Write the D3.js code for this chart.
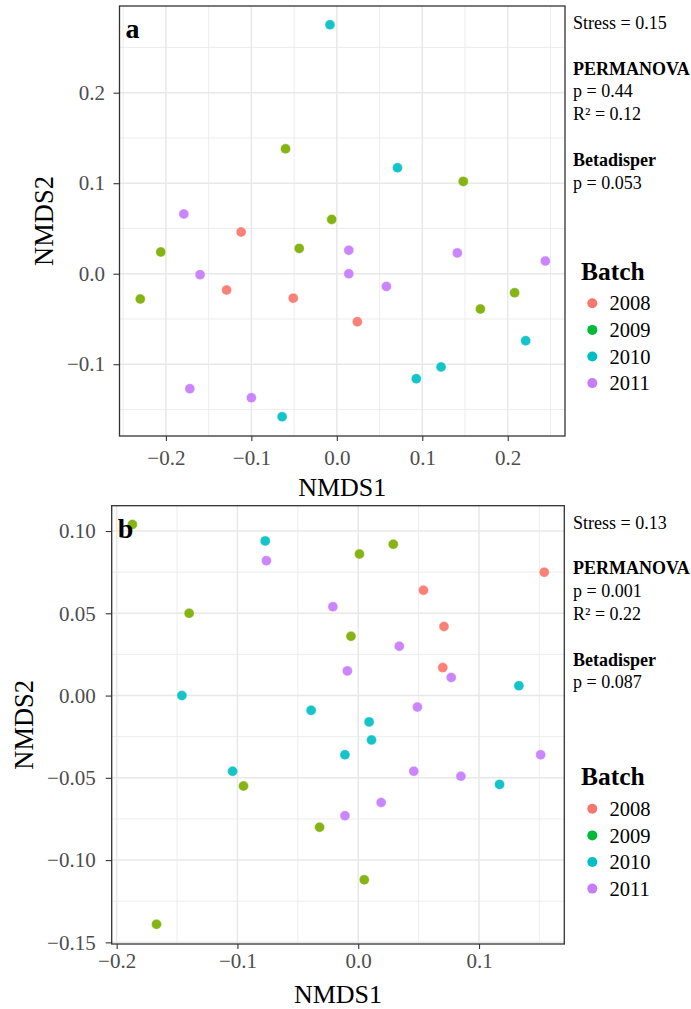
<!DOCTYPE html>
<html>
<head>
<meta charset="utf-8">
<script src="https://cdn.jsdelivr.net/npm/d3@7"></script>
<style>
  body { margin: 0; background: #fff; }
  svg { display: block; font-family: "Liberation Serif", "Times New Roman", serif; }
</style>
</head>
<body>
<div id="chart"></div>
<script>
// batches and colours (ggplot default hue)
var batches = ["2008", "2009", "2010", "2011"];
var pointColors = ["#F8766D", "#7CAE00", "#00BFC4", "#C77CFF"];
var keyColors = ["#F8766D", "#00BA38", "#00BFC4", "#C77CFF"];

// panel a
var aX = [-0.008, -0.060, 0.071, 0.148, -0.179, -0.112, -0.006, -0.206, -0.044, 0.014,
          -0.160, 0.014, 0.141, 0.244, 0.058, -0.230, -0.129, -0.051, 0.024, 0.208,
          0.168, 0.221, 0.122, 0.093, -0.172, -0.100, -0.064];
var aY = [0.275, 0.138, 0.117, 0.102, 0.066, 0.046, 0.060, 0.024, 0.028, 0.026,
          -0.001, 0.000, 0.023, 0.014, -0.014, -0.028, -0.018, -0.027, -0.053, -0.021,
          -0.039, -0.074, -0.103, -0.116, -0.127, -0.137, -0.158];
var aBatch = ["2010", "2009", "2010", "2009", "2011", "2008", "2009", "2009", "2009", "2011",
              "2011", "2011", "2011", "2011", "2011", "2009", "2008", "2008", "2008", "2009",
              "2009", "2010", "2010", "2010", "2011", "2011", "2010"];
var aXTicks = [-0.2, -0.1, 0, 0.1, 0.2];
var aYTicks = [-0.1, 0, 0.1, 0.2];
var aXMinor = [-0.25, -0.15, -0.05, 0.05, 0.15, 0.25];
var aYMinor = [-0.15, -0.05, 0.05, 0.15, 0.25];
var aStats = ["Stress = 0.15", "", "PERMANOVA", "p = 0.44", "R\u00B2 = 0.12", "", "Betadisper", "p = 0.053"];

// panel b
var bX = [-0.187, -0.077, -0.076, -0.140, -0.146, -0.021, -0.006, -0.009, -0.039, 0.001,
          0.029, 0.054, 0.154, 0.071, 0.034, 0.070, 0.077, 0.133, 0.049, 0.009,
          0.011, -0.011, 0.151, 0.046, 0.085, 0.117, 0.019, -0.011, -0.032, 0.005,
          -0.104, -0.095, -0.167];
var bY = [0.104, 0.094, 0.082, 0.050, 0.000, 0.054, 0.036, 0.015, -0.009, 0.086,
          0.092, 0.064, 0.075, 0.042, 0.030, 0.017, 0.011, 0.006, -0.007, -0.016,
          -0.027, -0.036, -0.036, -0.046, -0.049, -0.054, -0.065, -0.073, -0.080, -0.112,
          -0.046, -0.055, -0.139];
var bBatch = ["2009", "2010", "2011", "2009", "2010", "2011", "2009", "2011", "2010", "2009",
              "2009", "2008", "2008", "2008", "2011", "2008", "2011", "2010", "2011", "2010",
              "2010", "2010", "2011", "2011", "2011", "2010", "2011", "2011", "2009", "2009",
              "2010", "2009", "2009"];
var bXTicks = [-0.2, -0.1, 0, 0.1];
var bYTicks = [-0.15, -0.1, -0.05, 0, 0.05, 0.1];
var bXMinor = [-0.15, -0.05, 0.05, 0.15];
var bYMinor = [-0.125, -0.075, -0.025, 0.025, 0.075];
var bStats = ["Stress = 0.13", "", "PERMANOVA", "p = 0.001", "R\u00B2 = 0.22", "", "Betadisper", "p = 0.087"];

var W = 691, H = 1009;
var serif = "'Liberation Serif', 'Times New Roman', serif";
var svg = d3.select("#chart").append("svg")
    .attr("width", W).attr("height", H);

var color = d3.scaleOrdinal().domain(batches).range(pointColors);

function drawPanel(p) {
  var x = d3.scaleLinear().domain(p.xDomain).range([p.left, p.right]);
  var y = d3.scaleLinear().domain(p.yDomain).range([p.bottom, p.top]);
  var g = svg.append("g");

  // grid
  g.selectAll(".xminor").data(p.xMinor.filter(function(v) { return x(v) > p.left && x(v) < p.right; }))
    .enter().append("line")
      .attr("x1", function(d) { return x(d); }).attr("x2", function(d) { return x(d); })
      .attr("y1", p.top).attr("y2", p.bottom)
      .attr("stroke", "#ebebeb").attr("stroke-width", 0.9);
  g.selectAll(".yminor").data(p.yMinor.filter(function(v) { return y(v) > p.top && y(v) < p.bottom; }))
    .enter().append("line")
      .attr("y1", function(d) { return y(d); }).attr("y2", function(d) { return y(d); })
      .attr("x1", p.left).attr("x2", p.right)
      .attr("stroke", "#ebebeb").attr("stroke-width", 0.9);
  g.selectAll(".xmajor").data(p.xTicks)
    .enter().append("line")
      .attr("x1", function(d) { return x(d); }).attr("x2", function(d) { return x(d); })
      .attr("y1", p.top).attr("y2", p.bottom)
      .attr("stroke", "#e8e8e8").attr("stroke-width", 1.5);
  g.selectAll(".ymajor").data(p.yTicks)
    .enter().append("line")
      .attr("y1", function(d) { return y(d); }).attr("y2", function(d) { return y(d); })
      .attr("x1", p.left).attr("x2", p.right)
      .attr("stroke", "#e8e8e8").attr("stroke-width", 1.5);

  // points
  g.selectAll("circle.pt").data(p.xs.map(function(v, i) { return {x: v, y: p.ys[i], b: p.bs[i]}; }))
    .enter().append("circle")
      .attr("class", "pt")
      .attr("cx", function(d) { return x(d.x); })
      .attr("cy", function(d) { return y(d.y); })
      .attr("r", 5)
      .attr("fill", function(d) { return color(d.b); })
      .attr("fill-opacity", 0.92)
      .attr("stroke", "#fff").attr("stroke-width", 0.6).attr("stroke-opacity", 0.6);

  // border
  g.append("rect")
    .attr("x", p.left).attr("y", p.top)
    .attr("width", p.right - p.left).attr("height", p.bottom - p.top)
    .attr("fill", "none").attr("stroke", "#333").attr("stroke-width", 1.3);

  // axes
  var xa = g.append("g").attr("transform", "translate(0," + p.bottom + ")")
    .call(d3.axisBottom(x).tickValues(p.xTicks).tickFormat(d3.format(".1f")).tickSize(5).tickPadding(p.xPad));
  var ya = g.append("g").attr("transform", "translate(" + p.left + ",0)")
    .call(d3.axisLeft(y).tickValues(p.yTicks).tickFormat(d3.format(p.yFmt)).tickSize(6).tickPadding(p.yPad));
  [xa, ya].forEach(function(a) {
    a.attr("font-family", serif).attr("font-size", 21);
    a.select(".domain").remove();
    a.selectAll(".tick line").attr("stroke", "#333").attr("stroke-width", 1.1);
    a.selectAll(".tick text").attr("fill", "#4d4d4d");
  });

  // axis titles
  g.append("text")
    .attr("x", (p.left + p.right) / 2).attr("y", p.xTitleY)
    .attr("text-anchor", "middle").style("font-size", "26px")
    .text("NMDS1");
  g.append("text")
    .attr("transform", "translate(" + p.yTitleX + "," + ((p.top + p.bottom) / 2) + ") rotate(-90)")
    .attr("text-anchor", "middle").style("font-size", "26.5px")
    .text("NMDS2");

  // panel tag
  g.append("text")
    .attr("x", p.left + 6).attr("y", p.top + 32)
    .style("font-size", "28px").style("font-weight", "bold")
    .text(p.tag);

  // stats text
  var sy = p.top + 23;
  p.stats.forEach(function(s, i) {
    g.append("text")
      .attr("x", 573).attr("y", sy + i * 22.8)
      .style("font-size", "18px")
      .style("font-weight", (s === "PERMANOVA" || s === "Betadisper") ? "bold" : "normal")
      .text(s);
  });

  // legend
  var ly = p.legendY;
  g.append("text")
    .attr("x", 581).attr("y", ly)
    .style("font-size", "25.5px").style("font-weight", "bold")
    .text("Batch");
  var items = g.selectAll(".key").data(batches).enter().append("g")
    .attr("transform", function(d, i) { return "translate(0," + (ly + 23.8 + i * 26.6) + ")"; });
  items.append("circle")
    .attr("cx", 592.3).attr("cy", 0).attr("r", 5)
    .attr("fill", function(d, i) { return keyColors[i]; });
  items.append("text")
    .attr("x", 609.5).attr("y", 0).attr("dy", "0.35em")
    .style("font-size", "20.5px")
    .text(function(d) { return d; });
}

drawPanel({
  xs: aX, ys: aY, bs: aBatch, tag: "a",
  left: 119.5, right: 565, top: 6, bottom: 436,
  xDomain: [-0.2543, 0.267], yDomain: [-0.1793, 0.2958],
  xTicks: aXTicks, yTicks: aYTicks, xMinor: aXMinor, yMinor: aYMinor,
  yFmt: ".1f", xPad: 9, yPad: 8.5,
  xTitleY: 496, yTitleX: 53, stats: aStats, legendY: 279.5
});

drawPanel({
  xs: bX, ys: bY, bs: bBatch, tag: "b",
  left: 111.7, right: 564.3, top: 505.7, bottom: 944,
  xDomain: [-0.2041, 0.1706], yDomain: [-0.151, 0.1154],
  xTicks: bXTicks, yTicks: bYTicks, xMinor: bXMinor, yMinor: bYMinor,
  yFmt: ".2f", xPad: 4.5, yPad: 10,
  xTitleY: 1003, yTitleX: 33, stats: bStats, legendY: 785
});
</script>
</body>
</html>
